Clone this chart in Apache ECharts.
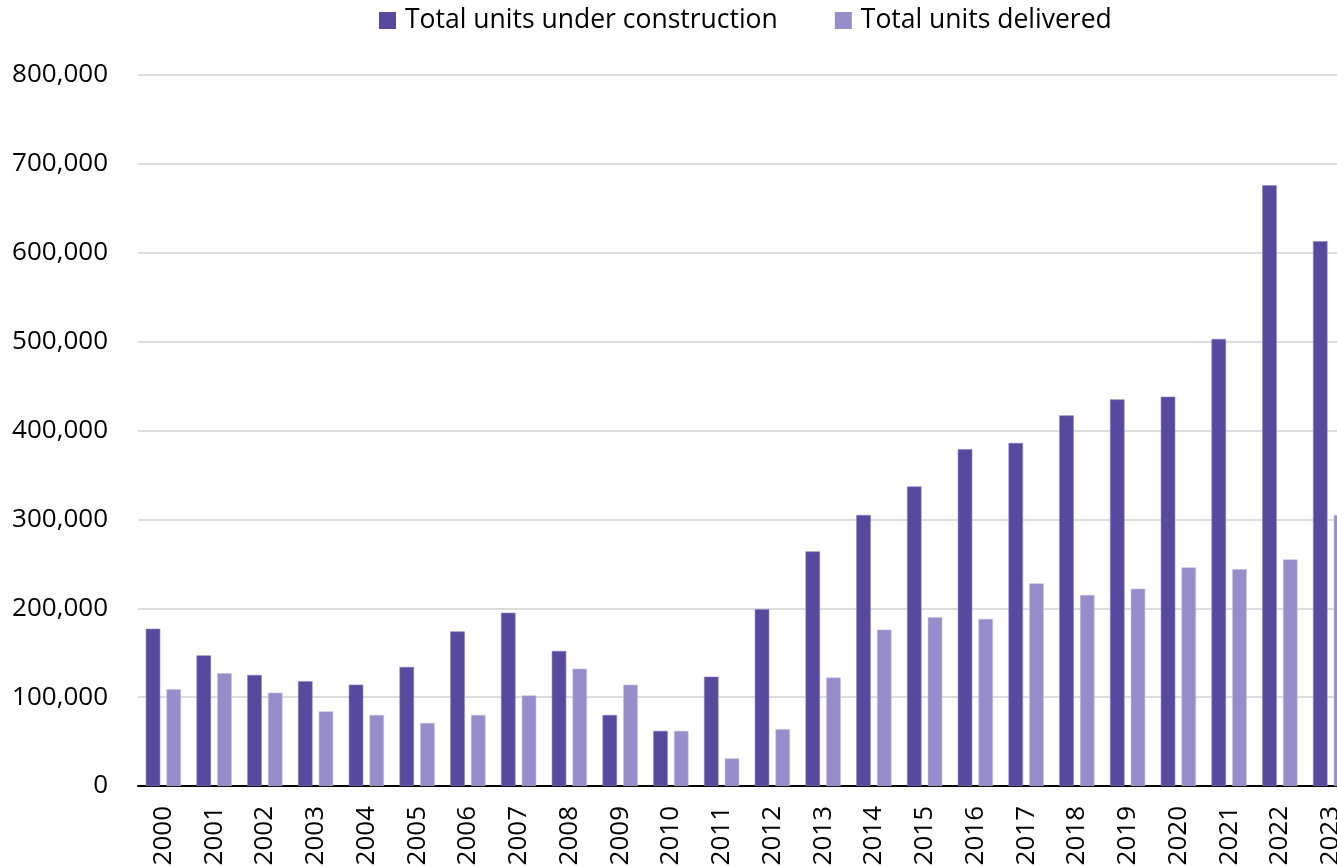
<!DOCTYPE html>
<html>
<head>
<meta charset="utf-8">
<script src="https://cdn.jsdelivr.net/npm/echarts@6/dist/echarts.min.js"></script>
<style>
  html, body { margin: 0; padding: 0; background: #fff; }
  #chart { width: 1337px; height: 866px; }
</style>
</head>
<body>
<div id="chart"></div>
<script>
// years on the x axis
var years = ['2000', '2001', '2002', '2003', '2004', '2005', '2006', '2007', '2008', '2009', '2010', '2011',
    '2012', '2013', '2014', '2015', '2016', '2017', '2018', '2019', '2020', '2021', '2022', '2023'];

// values
var underConstruction = [177000, 147000, 125000, 118000, 114000, 134000, 174000, 195000, 152000, 80000, 62000, 123000,
    199000, 264000, 305000, 337000, 379000, 386000, 417000, 435000, 438000, 503000, 676000, 613000];
var delivered = [109000, 127000, 105000, 84000, 80000, 71000, 80000, 102000, 132000, 114000, 62000, 31000,
    64000, 122000, 176000, 190000, 188000, 228000, 215000, 222000, 246000, 244000, 255000, 305000];

var myChart = echarts.init(document.getElementById('chart'));
var font = '"Open Sans", "Noto Sans", sans-serif';

var option = {
    backgroundColor: '#fff',
    animation: false,
    textStyle: {fontFamily: font},
    legend: {
        top: 2,
        left: 374,
        itemWidth: 17,
        itemHeight: 17,
        itemGap: 57,
        icon: 'rect',
        itemStyle: {borderWidth: 0},
        textStyle: {fontSize: 26.5, color: '#000', fontFamily: font, padding: [0, 0, 0, 4]},
        data: ['Total units under construction', 'Total units delivered']
    },
    grid: {
        left: 138,
        right: -19,
        top: 75,
        bottom: 80,
        containLabel: false,
        outerBoundsMode: 'none'
    },
    xAxis: {
        type: 'category',
        data: years,
        axisLine: {lineStyle: {color: '#000', width: 2}},
        axisTick: {show: false},
        axisLabel: {
            rotate: 90,
            interval: 0,
            margin: 20,
            fontSize: 26,
            color: '#000',
            fontFamily: font
        }
    },
    yAxis: {
        type: 'value',
        min: 0,
        max: 800000,
        interval: 100000,
        axisLine: {show: false},
        axisTick: {show: false},
        splitLine: {lineStyle: {color: '#dcdcdc', width: 2}},
        axisLabel: {
            margin: 30,
            fontSize: 26,
            color: '#000',
            fontFamily: font,
            formatter: function (v) {
                return v.toString().replace(/\B(?=(\d{3})+(?!\d))/g, ',');
            }
        }
    },
    series: [
        {
            name: 'Total units under construction',
            type: 'bar',
            data: underConstruction,
            barWidth: 14.5,
            barGap: '43%',
            itemStyle: {color: '#574a9e', borderColor: '#8a80c2', borderWidth: 0.6}
        },
        {
            name: 'Total units delivered',
            type: 'bar',
            data: delivered,
            barWidth: 14.5,
            barGap: '43%',
            itemStyle: {color: '#978dca', borderColor: '#c4bde3', borderWidth: 0.6}
        }
    ]
};
myChart.setOption(option);
</script>
</body>
</html>
